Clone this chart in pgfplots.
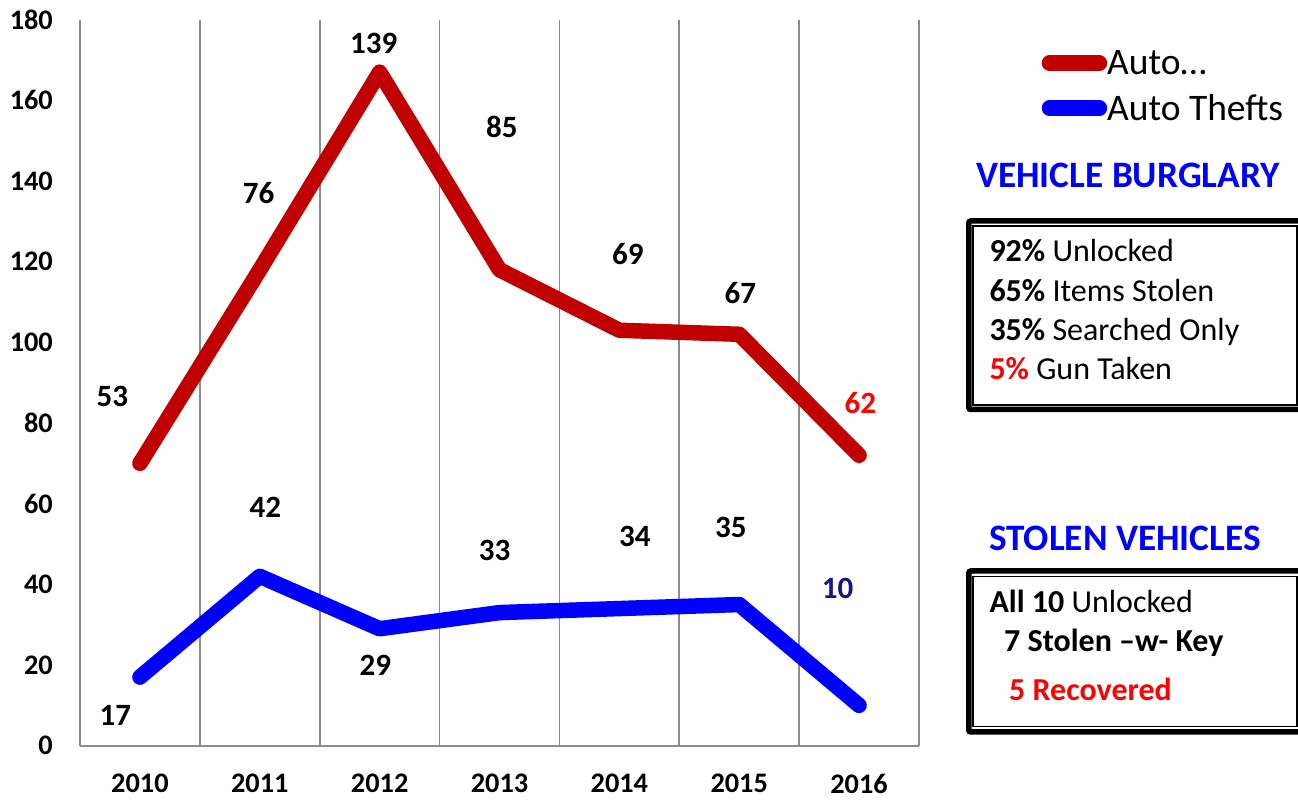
\documentclass[border=0pt]{standalone}
\usepackage{fontspec}
\setmainfont{Carlito}
\usepackage{pgfplots}
\pgfplotsset{compat=1.18}
\definecolor{cred}{HTML}{C00000}
\definecolor{cblue}{HTML}{0000FF}
\definecolor{gridgray}{HTML}{8C8C8C}
\definecolor{navy}{RGB}{20,20,140}
\definecolor{brightred}{HTML}{FF0000}
\begin{document}
\begin{tikzpicture}[x=1pt,y=1pt]
\path[use as bounding box] (0,0) rectangle (1298,800);
\begin{axis}[
  at={(80pt,54.3pt)}, anchor=south west,
  scale only axis, width=839pt, height=726pt,
  xmin=-0.5, xmax=6.5, ymin=0, ymax=180,
  xtick={0,1,2,3,4,5,6},
  xticklabels={2010,2011,2012,2013,2014,2015,2016},
  ytick={0,20,40,60,80,100,120,140,160,180},
  minor xtick={-0.5,0.5,1.5,2.5,3.5,4.5,5.5,6.5},
  xminorgrids=true,
  minor x grid style={gridgray, line width=1.8pt},
  major tick length=0pt, minor tick length=0pt,
  axis x line*=bottom, axis y line*=left,
  axis line style={-, gridgray, line width=1.8pt},
  /pgf/number format/assume math mode=true,
  tick label style={font=\fontsize{28.3}{28.3}\selectfont\bfseries},
  yticklabel style={anchor=east, inner sep=0pt, xshift=-27pt},
  xticklabel style={anchor=north, inner sep=0pt, yshift=-28pt},
  clip=false,
  legend cell align=left,
  legend image code/.code={\draw[#1] (0pt,0pt) -- (50pt,0pt);},
  legend style={at={(1.146,0.958)}, anchor=north west, draw=none, fill=none,
    font=\fontsize{37.5}{37.5}\selectfont, inner sep=0pt, row sep=18.5pt, column sep=0pt,
    nodes={inner sep=0pt}},
]
\addplot[cred, line width=15.5pt, line cap=round, line join=round]
  coordinates {(0,70) (1,118) (2,167) (3,118) (4,103) (5,102) (6,72)};
\addlegendentry{Auto…}
\addplot[cblue, line width=15.5pt, line cap=round, line join=round]
  coordinates {(0,17) (1,42) (2,29) (3,33) (4,34) (5,35) (6,10)};
\addlegendentry{Auto Thefts}
\begin{scope}[every node/.style={font=\fontsize{31}{31}\selectfont\bfseries}]
\node at (axis cs:-0.23,86.5) {53};
\node at (axis cs:0.99,137) {76};
\node at (axis cs:1.95,174.2) {139};
\node at (axis cs:3.02,153.4) {85};
\node at (axis cs:4.07,122) {69};
\node at (axis cs:5.01,112.2) {67};
\node[text=brightred] at (axis cs:6.01,85) {62};
\node at (axis cs:-0.205,7.6) {17};
\node at (axis cs:1.046,59) {42};
\node at (axis cs:1.965,20) {29};
\node at (axis cs:2.96,48.4) {33};
\node at (axis cs:4.13,51.9) {34};
\node at (axis cs:4.93,54) {35};
\node[text=navy] at (axis cs:5.82,38.9) {10};
\end{scope}
\end{axis}
% side panel
\node[font=\fontsize{37.3}{37.3}\selectfont\bfseries, text=cblue] at (1128,625) {VEHICLE BURGLARY};
\draw[line width=5.5pt, rounded corners=2pt] (968.8,390.5) rectangle (1310,579);
\draw[line width=1.6pt] (972.7,395) rectangle (1296.7,574);
\begin{scope}[every node/.style={font=\fontsize{32}{32}\selectfont, anchor=base west, inner sep=0pt}]
\node at (989.3,538.3) {\textbf{92\%} Unlocked};
\node at (989.3,498.3) {\textbf{65\%} Items Stolen};
\node at (989.3,459.3) {\textbf{35\%} Searched Only};
\node at (989.3,420) {\textbf{\textcolor{brightred}{5\%}} Gun Taken};
\end{scope}
\node[font=\fontsize{37.3}{37.3}\selectfont\bfseries, text=cblue] at (1125,261.7) {STOLEN VEHICLES};
\draw[line width=5.5pt, rounded corners=2pt] (968.8,68) rectangle (1310,229);
\draw[line width=1.6pt] (972.7,73.3) rectangle (1296.7,223.3);
\begin{scope}[every node/.style={font=\fontsize{32}{32}\selectfont, anchor=base west, inner sep=0pt}]
\node at (989.3,187.7) {\textbf{All 10} Unlocked};
\node at (1004,148.3) {\textbf{7 Stolen –w- Key}};
\node[text=brightred] at (1009,99.3) {\textbf{5 Recovered}};
\end{scope}
\end{tikzpicture}
\end{document}
